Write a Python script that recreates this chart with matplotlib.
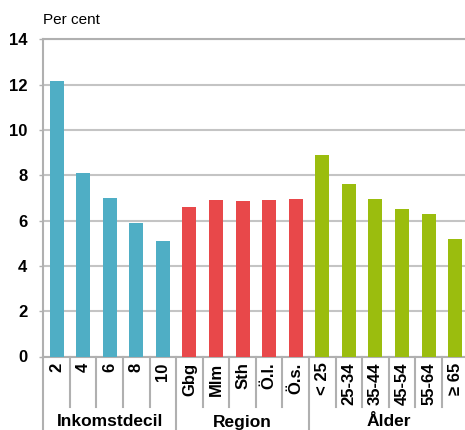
import matplotlib
matplotlib.use("Agg")
import matplotlib.pyplot as plt
import matplotlib.transforms as mtransforms

plt.rcParams['font.family'] = ['Liberation Sans', 'DejaVu Sans']

# Categories and values (per cent)
income_labels = ["2", "4", "6", "8", "10"]
income_values = [12.15, 8.1, 7.0, 5.88, 5.09]

region_labels = ["Gbg", "Mlm", "Sth", "Ö.l.", "Ö.s."]
region_values = [6.59, 6.9, 6.87, 6.91, 6.97]

age_labels = ["< 25", "25-34", "35-44", "45-54", "55-64", "≥ 65"]
age_values = [8.9, 7.62, 6.95, 6.5, 6.29, 5.17]

group_names = ["Inkomstdecil", "Region", "Ålder"]
y_ticks = [0, 2, 4, 6, 8, 10, 12, 14]

BLUE = "#4FAEC5"
RED = "#E8484A"
GREEN = "#9BBD0E"
GRID = "#c4c4c4"
AXIS = "#b0b0b0"

groups = [
    (income_labels, income_values, BLUE),
    (region_labels, region_values, RED),
    (age_labels, age_values, GREEN),
]

fig = plt.figure(figsize=(4.65, 4.30), dpi=100)
W, H = 465, 430
left_px, right_px = 43.3, 468.4
bottom_px, top_px = 356.5, 39.4
ax = fig.add_axes([left_px / W, 1 - bottom_px / H,
                   (right_px - left_px) / W, (bottom_px - top_px) / H])

labels, pos, group_bounds = [], [], []
i = 0
for names, vals, color in groups:
    start = i
    xs = list(range(i, i + len(vals)))
    ax.bar(xs, vals, width=0.53, color=color, zorder=3)
    labels += names
    pos += xs
    i += len(vals)
    group_bounds.append((start, i - 1))

n = len(labels)
ax.set_xlim(-0.5, n - 0.5)
ax.set_ylim(0, 14)
ax.set_yticks(y_ticks)
ax.set_yticklabels([str(t) for t in y_ticks], fontsize=12, fontweight='bold')
ax.tick_params(axis='y', length=3, width=1, color=AXIS, pad=8.5)
ax.set_xticks([])
ax.yaxis.grid(True, color=GRID, linewidth=1.5, zorder=0)
ax.set_axisbelow(True)

for side in ("right",):
    ax.spines[side].set_visible(False)
for side in ("left", "bottom", "top"):
    ax.spines[side].set_color(AXIS)
    ax.spines[side].set_linewidth(1.5)

trans = mtransforms.blended_transform_factory(ax.transData, ax.transAxes)
axis_h = bottom_px - top_px
short_y = -(407 - bottom_px) / axis_h
long_y = -(H - bottom_px) / axis_h

# Category labels, rotated
label_off = -(6.0) / axis_h
for x, lab in zip(pos, labels):
    ax.text(x, label_off, lab, transform=trans, rotation=90, ha='center',
            va='top', fontsize=12, fontweight='bold', clip_on=False)

# Separators below the axis
boundaries = [b[1] + 0.5 for b in group_bounds[:-1]]
for k in range(n):
    xb = k - 0.5
    if k == 0 or xb in boundaries:
        y_end = long_y
    else:
        y_end = short_y
    ax.plot([xb, xb], [0, y_end], transform=trans, color=AXIS,
            linewidth=1.5, clip_on=False)

# Group labels
group_y = -(422 - bottom_px) / axis_h
for name, (s, e) in zip(group_names, group_bounds):
    ax.text((s + e) / 2, group_y, name, transform=trans, ha='center',
            va='center', fontsize=12.5, fontweight='bold', clip_on=False)

fig.text(left_px / W, 1 - 20 / H, "Per cent", fontsize=11, ha='left',
         va='center')

fig.savefig("out.png", dpi=100)
